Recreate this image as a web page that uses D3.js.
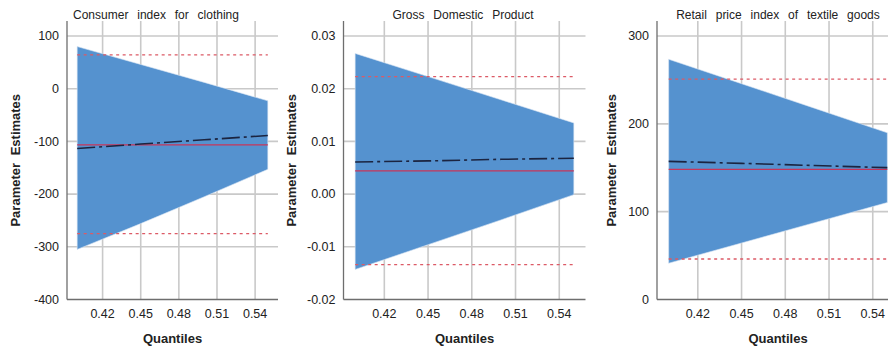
<!DOCTYPE html>
<html>
<head>
<meta charset="utf-8">
<script src="https://cdn.jsdelivr.net/npm/d3@7"></script>
<style>
  html, body { margin: 0; padding: 0; background: #fff; }
  svg { display: block; font-family: "Liberation Sans", Arial, sans-serif; }
</style>
</head>
<body>
<svg id="chart" width="888" height="350"></svg>
<script>
// Quantile regression estimates vs OLS, three predictors
const quantiles = [0.40, 0.45, 0.50, 0.55];
const xTicks = [0.42, 0.45, 0.48, 0.51, 0.54];
const xDomain = [0.392, 0.558];

const titles = ["Consumer index for clothing", "Gross Domestic Product", "Retail price index of textile goods"];

// Consumer index for clothing
const consumerEst = [-113.5, -105, -97, -88.8];
const consumerLower = [-305, -256, -205, -153];
const consumerUpper = [80, 46, 12, -23];
const consumerOls = [-106.5, -275, 64];          // estimate, lower, upper
const consumerTicks = [-400, -300, -200, -100, 0, 100];

// Gross Domestic Product
const gdpEst = [0.0061, 0.0063, 0.0066, 0.0068];
const gdpLower = [-0.0143, -0.0096, -0.0049, -0.0001];
const gdpUpper = [0.0267, 0.0223, 0.0179, 0.0135];
const gdpOls = [0.0044, -0.0134, 0.0223];
const gdpTicks = [-0.02, -0.01, 0.00, 0.01, 0.02, 0.03];

// Retail price index of textile goods
const retailEst = [157.3, 155, 152.5, 150.1];
const retailLower = [41.3, 64.3, 87.4, 110.4];
const retailUpper = [273.5, 245.7, 217.8, 189.8];
const retailOls = [148.2, 46.1, 251];
const retailTicks = [0, 100, 200, 300];

// plain hyphen-minus for negative tick labels
const hyphen = f => d => f(d).replace("\u2212", "-");

const panels = [
  { title: titles[0], est: consumerEst, lo: consumerLower, hi: consumerUpper, ols: consumerOls,
    ticks: consumerTicks, fmt: hyphen(d3.format("d")),
    x0: 67, x1: 278, titleX: 156, labelX: 19.5 },
  { title: titles[1], est: gdpEst, lo: gdpLower, hi: gdpUpper, ols: gdpOls,
    ticks: gdpTicks, fmt: hyphen(d3.format(".2f")),
    x0: 343.5, x1: 585.5, titleX: 463, labelX: 295.5 },
  { title: titles[2], est: retailEst, lo: retailLower, hi: retailUpper, ols: retailOls,
    ticks: retailTicks, fmt: hyphen(d3.format("d")),
    x0: 657, x1: 899, titleX: 778, labelX: 615.5 }
];

const svg = d3.select("#chart");
const plotTop = 21, tickTop = 36, plotBottom = 299.5;
const gridColor = "#c9c9c9", axisColor = "#6e6e6e", textColor = "#222";

panels.forEach(p => {
  const g = svg.append("g");
  const x = d3.scaleLinear().domain(xDomain).range([p.x0, p.x1]);
  const y = d3.scaleLinear().domain(d3.extent(p.ticks)).range([plotBottom, tickTop]);

  // grid
  g.selectAll("line.vgrid").data(xTicks).join("line")
    .attr("x1", d => x(d)).attr("x2", d => x(d))
    .attr("y1", plotTop).attr("y2", plotBottom)
    .attr("stroke", gridColor).attr("stroke-width", 1.6);
  g.selectAll("line.hgrid").data(p.ticks.slice(1)).join("line")
    .attr("x1", p.x0).attr("x2", p.x1)
    .attr("y1", d => y(d)).attr("y2", d => y(d))
    .attr("stroke", gridColor).attr("stroke-width", 1.6);

  // confidence band of the quantile estimates
  const rows = quantiles.map((q, i) => ({ q, lo: p.lo[i], hi: p.hi[i], est: p.est[i] }));
  g.append("path").datum(rows)
    .attr("d", d3.area().x(d => x(d.q)).y0(d => y(d.lo)).y1(d => y(d.hi)))
    .attr("fill", "#5592cf")
    .attr("stroke", "#d6e4f3").attr("stroke-width", 0.6);

  // OLS bounds (dotted) and estimate (solid)
  const qx = d3.extent(quantiles);
  [p.ols[1], p.ols[2]].forEach(v => {
    g.append("line")
      .attr("x1", x(qx[0])).attr("x2", x(qx[1]))
      .attr("y1", y(v)).attr("y2", y(v))
      .attr("stroke", "#dc5a66").attr("stroke-width", 1.3)
      .attr("stroke-dasharray", "3,3.5");
  });
  g.append("line")
    .attr("x1", x(qx[0])).attr("x2", x(qx[1]))
    .attr("y1", y(p.ols[0])).attr("y2", y(p.ols[0]))
    .attr("stroke", "#c8345a").attr("stroke-width", 1.3);

  // quantile estimate (dash-dot)
  g.append("path").datum(rows)
    .attr("d", d3.line().x(d => x(d.q)).y(d => y(d.est)))
    .attr("fill", "none")
    .attr("stroke", "#1b2440").attr("stroke-width", 1.6)
    .attr("stroke-dasharray", "18,4,3,4");

  // axes lines
  g.append("line").attr("x1", p.x0).attr("x2", p.x0).attr("y1", plotTop).attr("y2", plotBottom)
    .attr("stroke", axisColor).attr("stroke-width", 1.3);
  g.append("line").attr("x1", p.x0).attr("x2", p.x1).attr("y1", plotBottom).attr("y2", plotBottom)
    .attr("stroke", axisColor).attr("stroke-width", 1.3);

  // tick labels
  g.selectAll("text.ytick").data(p.ticks).join("text")
    .attr("x", p.x0 - 8).attr("y", d => y(d)).attr("dy", "0.35em")
    .attr("text-anchor", "end").attr("font-size", 12.5).attr("fill", textColor)
    .text(d => p.fmt(d));
  g.selectAll("text.xtick").data(xTicks).join("text")
    .attr("x", d => x(d)).attr("y", 317.5)
    .attr("text-anchor", "middle").attr("font-size", 12.5).attr("fill", textColor)
    .text(d => d3.format(".2f")(d));

  // titles and axis labels
  g.append("text").attr("x", p.titleX).attr("y", 18.5)
    .attr("text-anchor", "middle").attr("font-size", 12).attr("word-spacing", 5.5)
    .attr("fill", textColor).text(p.title);
  g.append("text").attr("x", (p.x0 + Math.min(p.x1, 899)) / 2).attr("y", 343)
    .attr("text-anchor", "middle").attr("font-size", 13).attr("font-weight", "bold")
    .attr("fill", textColor).text("Quantiles");
  g.append("text")
    .attr("transform", `translate(${p.labelX},${(plotTop + plotBottom) / 2}) rotate(-90)`)
    .attr("text-anchor", "middle").attr("font-size", 13).attr("font-weight", "bold")
    .attr("word-spacing", 4)
    .attr("fill", textColor).text("Parameter Estimates");
});
</script>
</body>
</html>
